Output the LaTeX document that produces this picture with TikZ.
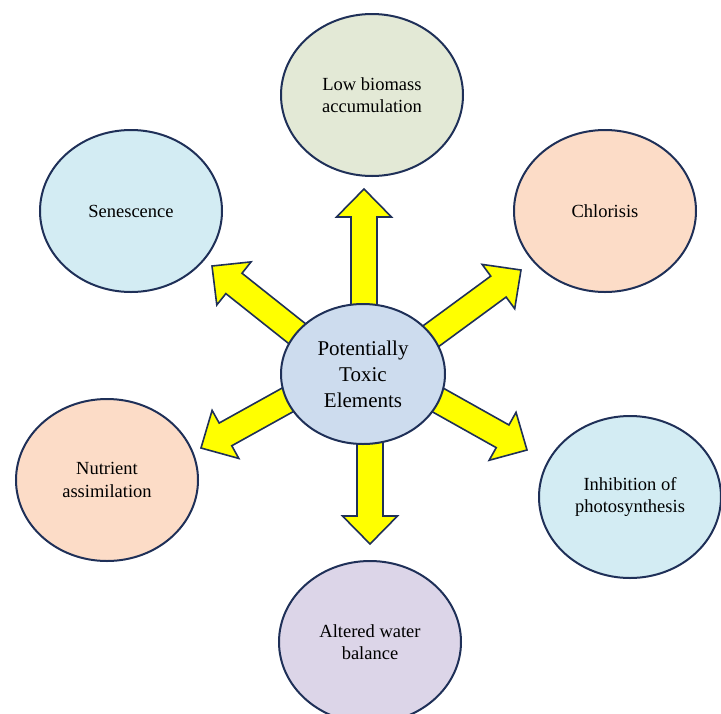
\documentclass[tikz,border=0pt]{standalone}
\usepackage{fontspec}
\setmainfont{Liberation Serif}
\usetikzlibrary{shapes.geometric,calc,backgrounds}

\definecolor{edgeblue}{HTML}{1F3058}
\definecolor{fillgreen}{HTML}{E3E9D6}
\definecolor{fillblue}{HTML}{D3ECF3}
\definecolor{fillpeach}{HTML}{FCDCC7}
\definecolor{filllav}{HTML}{DCD5E8}
\definecolor{fillcore}{HTML}{CDDCEE}
\definecolor{arrowyel}{HTML}{FFFF00}

\tikzset{
  effect/.style={ellipse, draw=edgeblue, line width=2pt, inner sep=0pt,
    minimum width=182pt, minimum height=162pt, align=center,
    font=\fontsize{18.5}{22.5}\selectfont},
  core/.style={ellipse, draw=edgeblue, line width=2pt, inner sep=0pt,
    fill=fillcore, minimum width=164pt, minimum height=140pt, align=center,
    font=\fontsize{21}{26}\selectfont},
  yelarrow/.style={draw=edgeblue, fill=arrowyel, line width=1.6pt, line join=miter}
}

% block arrow from #1 to tip #2
\newcommand{\blockarrow}[2]{%
  \coordinate (hb) at ($(#2)!28pt!(#1)$);
  \draw[yelarrow] ($(#1)!13pt!90:(#2)$) -- ($(hb)!13pt!-90:(#1)$)
    -- ($(hb)!27.5pt!-90:(#1)$) -- (#2) -- ($(hb)!27.5pt!90:(#1)$)
    -- ($(hb)!13pt!90:(#1)$) -- ($(#1)!13pt!-90:(#2)$) -- cycle;}

\begin{document}
\begin{tikzpicture}[x=1pt, y=-1pt]
  \useasboundingbox (0,0) rectangle (721,713);

  % centre
  \node[core] (ptc) at (363,374) {Potentially\\Toxic\\Elements};

  % effects
  \node[effect, fill=fillgreen] (bio) at (372,95) {Low biomass\\accumulation};
  \node[effect, fill=fillblue]  (sen) at (131,211) {Senescence};
  \node[effect, fill=fillpeach] (chl) at (605,211) {Chlorisis};
  \node[effect, fill=fillpeach] (nut) at (107,480) {Nutrient\\assimilation};
  \node[effect, fill=fillblue]  (inh) at (630,497) {Inhibition of\\photosynthesis};
  \node[effect, fill=filllav]   (wat) at (370,642) {Altered water\\balance};

  % arrow tips
  \coordinate (tbio) at (364,189);
  \coordinate (tsen) at (212,266);
  \coordinate (tchl) at (521,270);
  \coordinate (tnut) at (201,448);
  \coordinate (tinh) at (527,450);
  \coordinate (twat) at (370,544);

  \begin{scope}[on background layer]
    \coordinate (ptcup) at ($(ptc.center)+(0,12)$);
    \coordinate (ptclow) at ($(ptc.center)+(0,-16)$);
    \blockarrow{$(ptc.center)+(1,0)$}{tbio}
    \blockarrow{$(ptc.center)+(7,0)$}{twat}
    \blockarrow{ptcup}{tsen}
    \blockarrow{ptcup}{tchl}
    \blockarrow{ptclow}{tnut}
    \blockarrow{ptclow}{tinh}
  \end{scope}
\end{tikzpicture}
\end{document}
